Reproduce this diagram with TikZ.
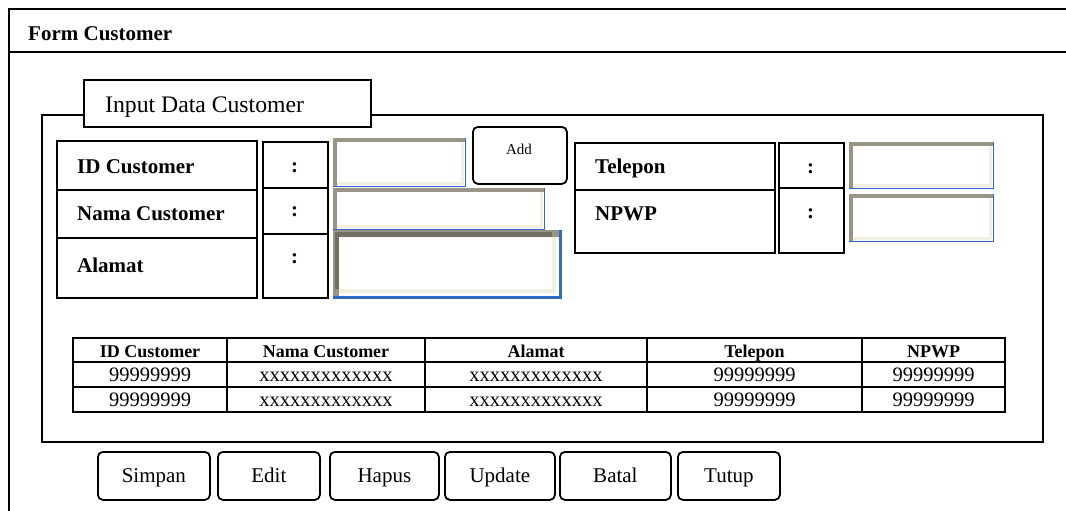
\documentclass[tikz,border=0pt]{standalone}
\usepackage{fontspec}
\setmainfont{Liberation Serif}

\definecolor{fieldgray}{RGB}{152,149,135}
\definecolor{fielddark}{RGB}{113,111,100}
\definecolor{fieldbeige}{RGB}{241,239,226}
\definecolor{fieldblue}{RGB}{49,106,197}

\begin{document}
\begin{tikzpicture}[x=1pt, y=-1pt,
    frame/.style={line width=1.8pt},
    box/.style={draw, line width=1.8pt, fill=white, inner sep=0pt, anchor=north west},
    btn/.style={box, rounded corners=5pt, text height=14pt, text depth=0pt, font=\fontsize{21}{25}\selectfont},
    lbl/.style={anchor=base west, inner sep=0pt, font=\fontsize{21}{25}\selectfont\bfseries},
    colon/.style={inner sep=0pt, font=\fontsize{21}{25}\selectfont\bfseries},
    field/.style={fill=white, inner sep=0pt, anchor=north west},
    cell/.style={anchor=base, inner sep=0pt, font=\fontsize{20.5}{24}\selectfont},
    head/.style={cell, font=\fontsize{18}{22}\selectfont\bfseries}]

    \useasboundingbox (0,0) rectangle (1066,511);

    \draw[frame] (1066,9) -- (9,9) -- (9,511); % top and left edge of window
    \draw[line width=1.5pt] (9,52) -- (1066,52); % bottom of title bar
    \node[lbl] (formtitle) at (28,41) {Form Customer};

    \draw[frame] (42,115) rectangle (1043,442); % input panel
    \node[box, minimum width=287pt, minimum height=47pt] (tab) at (83,79) {}; % panel tab
    \node[lbl, font=\fontsize{23.7}{28}\selectfont] (tabtitle) at (105,112) {Input Data Customer};

    % left column of labels
    \node[box, minimum width=200pt, minimum height=49pt] (idbox) at (56,140) {};
    \node[box, minimum width=200pt, minimum height=48pt] (namabox) at (56,189) {};
    \node[box, minimum width=200pt, minimum height=60pt] (alamatbox) at (56,237) {};
    \node[lbl] (idtext) at (77,173) {ID Customer};
    \node[lbl] (namatext) at (77,220) {Nama Customer};
    \node[lbl] (alamattext) at (77,272) {Alamat};

    \node[box, minimum width=65pt, minimum height=46pt] (idcol) at (262,141) {};
    \node[box, minimum width=65pt, minimum height=46pt] (namacol) at (262,187) {};
    \node[box, minimum width=65pt, minimum height=64pt] (alamatcol) at (262,233) {};
    \node[colon] (idsep) at (294.5,168) {:};
    \node[colon] (namasep) at (294.5,212) {:};
    \node[colon] (alamatsep) at (294.5,259) {:};

    \node[field, minimum width=132pt, minimum height=48pt] (fid) at (333,138) {};
    \node[field, minimum width=211pt, minimum height=41pt] (fnama) at (333,188) {};
    \node[field, minimum width=227pt, minimum height=67pt] (falamat) at (333,230) {};

    \node[btn, minimum width=94pt, minimum height=57pt] (add) at (472,126) {};
    \node[anchor=base, inner sep=0pt, font=\fontsize{15}{18}\selectfont] (addtext) at (519,154) {Add};

    % right column of labels
    \node[box, minimum width=200pt, minimum height=47pt] (telpbox) at (574,142) {};
    \node[box, minimum width=200pt, minimum height=63pt] (npwpbox) at (574,189) {};
    \node[lbl] (telptext) at (595,173) {Telepon};
    \node[lbl] (npwptext) at (595,220) {NPWP};

    \node[box, minimum width=65pt, minimum height=45pt] (telpcol) at (778,142) {};
    \node[box, minimum width=65pt, minimum height=65pt] (npwpcol) at (778,187) {};
    \node[colon] (telpsep) at (810.5,169) {:};
    \node[colon] (npwpsep) at (810.5,214) {:};

    \node[field, minimum width=144pt, minimum height=46pt] (ftelp) at (849,142) {};
    \node[field, minimum width=144pt, minimum height=47pt] (fnpwp) at (849,194) {};

    % sunken text fields
    \foreach \f in {fid, fnama, ftelp, fnpwp} {
        \fill[fieldgray] (\f.north west) rectangle ([yshift=-4pt]\f.north east);
        \fill[fieldgray] (\f.north west) rectangle ([xshift=4pt]\f.south west);
        \draw[fieldbeige, line width=2.5pt] ([xshift=4pt,yshift=3pt]\f.south west) -- ([xshift=-3pt,yshift=3pt]\f.south east) -- ([xshift=-3pt,yshift=-4pt]\f.north east);
        \draw[fieldblue, line width=1.8pt] (\f.north east) -- (\f.south east) -- (\f.south west);
    }
    \fill[fieldgray] (falamat.north west) rectangle ([yshift=-7pt]falamat.north east);
    \fill[fieldgray] (falamat.north west) rectangle ([xshift=6pt]falamat.south west);
    \fill[fielddark] ([xshift=2pt,yshift=-2pt]falamat.north west) rectangle ([xshift=-8pt,yshift=-7pt]falamat.north east);
    \fill[fielddark] ([xshift=2pt,yshift=-2pt]falamat.north west) rectangle ([xshift=6pt,yshift=8pt]falamat.south west);
    \draw[fieldbeige, line width=3.5pt] ([xshift=6pt,yshift=6.5pt]falamat.south west) -- ([xshift=-6.5pt,yshift=6.5pt]falamat.south east) -- ([xshift=-6.5pt,yshift=-7pt]falamat.north east);
    \draw[fieldblue, line width=2.5pt] (falamat.north east) -- (falamat.south east) -- (falamat.south west);

    % data grid
    \foreach \x in {227,425,647,862} \draw[line width=1.5pt] (\x,338) -- (\x,412);
    \foreach \y in {362,387} \draw[line width=1.5pt] (73,\y) -- (1005,\y);
    \draw[line width=2pt] (73,338) rectangle (1005,412);

    \foreach \cx/\t [count=\i] in {150/ID Customer, 326/Nama Customer, 536/Alamat, 754.5/Telepon, 933.5/NPWP}
        \node[head] (head\i) at (\cx,357) {\t};
    \foreach \r/\by in {1/381, 2/406} {
        \node[cell] (r\r id) at (150,\by) {99999999};
        \node[cell] (r\r nama) at (326,\by) {xxxxxxxxxxxxx};
        \node[cell] (r\r alamat) at (536,\by) {xxxxxxxxxxxxx};
        \node[cell] (r\r telp) at (754.5,\by) {99999999};
        \node[cell] (r\r npwp) at (933.5,\by) {99999999};
    }

    % command buttons
    \foreach \n/\x/\w/\t in {simpan/97/112/Simpan, edit/217/102/Edit, hapus/329/109/Hapus, update/444/110/Update, batal/559/111/Batal, tutup/677/102/Tutup}
        \node[btn, minimum width=\w pt, minimum height=48pt] (\n) at (\x,451) {\t};
\end{tikzpicture}
\end{document}
